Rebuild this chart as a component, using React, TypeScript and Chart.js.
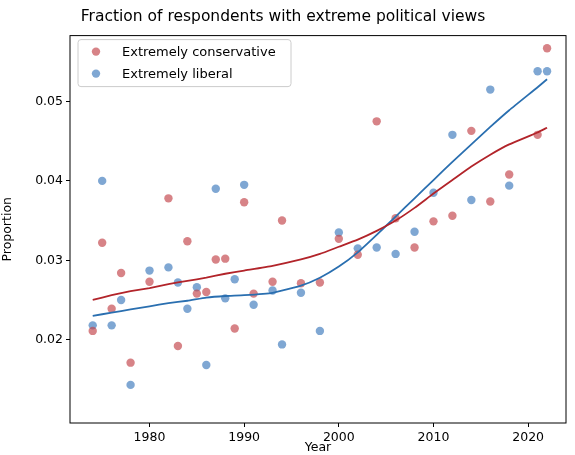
import React, { useEffect, useRef } from "react";
import { Chart, registerables } from "chart.js";
Chart.register(...registerables);

const years = [1974,1975,1976,1977,1978,1980,1982,1983,1984,1985,1986,1987,1988,1989,1990,1991,1993,1994,1996,1998,2000,2002,2004,2006,2008,2010,2012,2014,2016,2018,2021,2022];
const conservative = [0.0211,0.0322,0.0239,0.0284,0.0171,0.0273,0.0378,0.0192,0.0324,0.0258,0.026,0.0301,0.0302,0.0214,0.0373,0.0258,0.0273,0.035,0.0271,0.0272,0.0327,0.0307,0.0475,0.0353,0.0316,0.0349,0.0356,0.0463,0.0374,0.0408,0.0458,0.0567];
const liberal = [0.0218,0.04,0.0218,0.025,0.0143,0.0287,0.0291,0.0272,0.0239,0.0266,0.0168,0.039,0.0252,0.0276,0.0395,0.0244,0.0262,0.0194,0.0259,0.0211,0.0335,0.0315,0.0316,0.0308,0.0336,0.0385,0.0458,0.0376,0.0515,0.0394,0.0538,0.0538];
const smoothYears = [1974,1976,1978,1980,1982,1984,1986,1988,1990,1993,1996,1998,2000,2002,2004,2006,2008,2010,2012,2014,2016,2018,2021,2022];
const consSmooth = [0.025,0.0256,0.0261,0.0265,0.027,0.0274,0.0278,0.0283,0.0287,0.0293,0.0301,0.0308,0.0317,0.0326,0.0337,0.035,0.0366,0.0384,0.0401,0.0418,0.0433,0.0446,0.0461,0.0467];
const libSmooth = [0.023,0.0234,0.0238,0.0242,0.0246,0.0249,0.0253,0.0255,0.0256,0.0259,0.0268,0.0278,0.0292,0.031,0.0332,0.0355,0.0378,0.0401,0.0424,0.0446,0.0468,0.0489,0.0518,0.0528];
const xTicks = [1980, 1990, 2000, 2010, 2020];
const yTicks = [0.02, 0.03, 0.04, 0.05];

const RED_PT = "rgba(196,72,78,0.68)";
const BLUE_PT = "rgba(66,126,190,0.68)";
const RED_LN = "#b2242a";
const BLUE_LN = "#2a6fb0";
const FONT = "'DejaVu Sans'";

export default function App() {
  const ref = useRef<HTMLCanvasElement>(null);
  useEffect(() => {
    document.body.style.margin = "0";
    const pts = (ys: number[], xs: number[]) => xs.map((x, i) => ({ x, y: ys[i] }));
    const frame = {
      id: "frame",
      afterDraw(c: any) {
        const { ctx, chartArea: a } = c;
        ctx.save();
        ctx.strokeStyle = "#000"; ctx.lineWidth = 1;
        ctx.strokeRect(a.left, a.top, a.right - a.left, a.bottom - a.top);
        const lx = a.left + 8, ly = a.top + 4, w = 213, h = 47;
        ctx.fillStyle = "rgba(255,255,255,0.8)";
        ctx.strokeStyle = "#ccc";
        ctx.beginPath(); ctx.roundRect(lx, ly, w, h, 3); ctx.fill(); ctx.stroke();
        const items: [string, string][] = [["Extremely conservative", RED_PT], ["Extremely liberal", BLUE_PT]];
        items.forEach(([t, col], i) => {
          const y = ly + 12 + i * 22;
          ctx.fillStyle = col; ctx.beginPath(); ctx.arc(lx + 18, y, 4.2, 0, Math.PI * 2); ctx.fill();
          ctx.fillStyle = "#000"; ctx.font = `13px ${FONT}`; ctx.textBaseline = "middle";
          ctx.fillText(t, lx + 44, y + 1);
        });
        ctx.restore();
      },
    };
    const tickCfg = { color: "#000", font: { family: FONT, size: 12.5 } };
    const grid = { drawOnChartArea: false, drawTicks: true, tickLength: 4, color: "#000" };
    const chart = new Chart(ref.current!, {
      type: "scatter",
      data: {
        datasets: [
          { type: "line", data: pts(consSmooth, smoothYears), borderColor: RED_LN, borderWidth: 1.8, pointRadius: 0, tension: 0.15 } as any,
          { type: "line", data: pts(libSmooth, smoothYears), borderColor: BLUE_LN, borderWidth: 1.8, pointRadius: 0, tension: 0.15 } as any,
          { data: pts(conservative, years), backgroundColor: RED_PT, borderWidth: 0, pointRadius: 4.2 },
          { data: pts(liberal, years), backgroundColor: BLUE_PT, borderWidth: 0, pointRadius: 4.2 },
        ],
      },
      options: {
        animation: false, responsive: false,
        layout: { padding: { left: 0, right: 9, top: 0, bottom: 0 } },
        plugins: {
          legend: { display: false }, tooltip: { enabled: false },
          title: { display: true, text: "Fraction of respondents with extreme political views", color: "#000", font: { family: FONT, size: 15.5, weight: "normal" }, padding: { top: 8, bottom: 9 } },
        },
        scales: {
          x: {
            type: "linear", min: 1971.6, max: 2024.0,
            afterBuildTicks: (s: any) => { s.ticks = xTicks.map((v) => ({ value: v })); },
            ticks: { ...tickCfg, callback: (v: any) => String(v) },
            grid, border: { display: false },
            title: { display: true, text: "Year", color: "#000", font: { family: FONT, size: 12.5 }, padding: 0 },
            afterFit: (s: any) => { s.height = 32; },
          },
          y: {
            min: 0.0095, max: 0.0583,
            afterBuildTicks: (s: any) => { s.ticks = yTicks.map((v) => ({ value: v })); },
            ticks: { ...tickCfg, callback: (v: any) => Number(v).toFixed(2) },
            grid, border: { display: false },
            title: { display: true, text: "Proportion", color: "#000", font: { family: FONT, size: 12.5 }, padding: { top: 0, bottom: 4 } },
            afterFit: (s: any) => { s.width = 70; },
          },
        },
      },
      plugins: [frame],
    });
    return () => chart.destroy();
  }, []);
  return <canvas ref={ref} width={575} height={455} style={{ display: "block" }} />;
}
